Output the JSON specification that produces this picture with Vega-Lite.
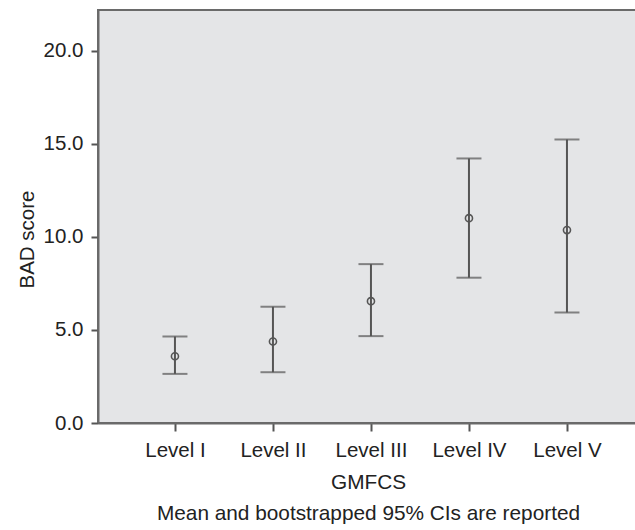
{
  "$schema": "https://vega.github.io/schema/vega-lite/v6.json",
  "width": 540,
  "height": 413,
  "autosize": {"type": "none"},
  "padding": {"left": 98, "top": 10, "right": 0, "bottom": 107},
  "background": "white",
  "config": {
    "font": "Liberation Sans",
    "view": {"fill": "#e4e5e7", "stroke": "#6a6a6a", "strokeWidth": 2}
  },
  "data": {
    "values": [
      {"level": "Level I", "mean": 3.59, "lower": 2.64, "upper": 4.65},
      {"level": "Level II", "mean": 4.38, "lower": 2.73, "upper": 6.25},
      {"level": "Level III", "mean": 6.55, "lower": 4.67, "upper": 8.54},
      {"level": "Level IV", "mean": 11.01, "lower": 7.81, "upper": 14.22},
      {"level": "Level V", "mean": 10.37, "lower": 5.94, "upper": 15.24}
    ]
  },
  "encoding": {
    "x": {
      "field": "level",
      "type": "ordinal",
      "sort": null,
      "scale": {"type": "point", "padding": 0.755, "align": 0.52},
      "axis": {
        "title": ["GMFCS", "Mean and bootstrapped 95% CIs are reported"],
        "titleFontSize": 20.8,
        "titleFontWeight": "normal",
        "titleColor": "#222222",
        "titleLineHeight": 31,
        "titlePadding": 12,
        "labelFontSize": 20.5,
        "labelColor": "#222222",
        "labelAngle": 0,
        "labelPadding": 9,
        "tickSize": 8,
        "tickWidth": 2,
        "tickColor": "#555555",
        "domainColor": "#6a6a6a",
        "domainWidth": 2
      }
    }
  },
  "layer": [
    {
      "mark": {"type": "rule", "color": "#555555", "strokeWidth": 2},
      "encoding": {
        "y": {
          "field": "lower",
          "type": "quantitative",
          "scale": {"domain": [0, 22.2], "nice": false, "zero": true},
          "axis": {
            "values": [0, 5, 10, 15, 20],
            "format": ".1f",
            "grid": false,
            "title": "BAD score",
            "titleFontSize": 20.5,
            "titleFontWeight": "normal",
            "titleColor": "#222222",
            "titleAngle": -90,
            "titleAlign": "center",
            "titleBaseline": "alphabetic",
            "titleX": -65,
            "titleY": 229,
            "labelFontSize": 20.5,
            "labelColor": "#222222",
            "labelPadding": 8,
            "tickSize": 7,
            "tickWidth": 2,
            "tickColor": "#555555",
            "domainColor": "#6a6a6a",
            "domainWidth": 2
          }
        },
        "y2": {"field": "upper"}
      }
    },
    {
      "mark": {"type": "tick", "color": "#555555", "size": 25, "thickness": 2},
      "encoding": {"y": {"field": "lower", "type": "quantitative"}}
    },
    {
      "mark": {"type": "tick", "color": "#555555", "size": 25, "thickness": 2},
      "encoding": {"y": {"field": "upper", "type": "quantitative"}}
    },
    {
      "mark": {"type": "point", "shape": "circle", "filled": false, "size": 50, "stroke": "#555555", "strokeWidth": 1.6, "opacity": 1},
      "encoding": {"y": {"field": "mean", "type": "quantitative"}}
    }
  ]
}
